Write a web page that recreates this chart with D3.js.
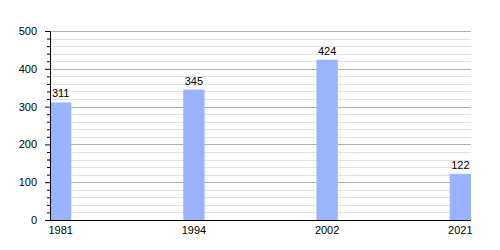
<!DOCTYPE html>
<html>
<head>
    <meta charset="utf-8">
    <script src="https://d3js.org/d3.v7.min.js"></script>
    <style>
        body { margin: 0; background: #fff; }
        text { font-family: "Liberation Sans", Arial, sans-serif; font-size: 11px; fill: #000; }
    </style>
</head>
<body>
    <script>
        var years = ["1981", "1994", "2002", "2021"];
        var population = [311, 345, 424, 122];
        var majorTicks = [0, 100, 200, 300, 400, 500];

        var margin = { top: 31, right: 29, bottom: 30, left: 50 };
        var width = 500 - margin.left - margin.right;
        var height = 250 - margin.top - margin.bottom;

        var svg = d3.select("body")
            .append("svg")
            .attr("width", 500)
            .attr("height", 250)
            .append("g")
            .attr("transform", "translate(" + margin.left + ", " + margin.top + ")");

        var x = d3.scaleBand()
            .domain(years)
            .range([0, width])
            .paddingInner(0.84)
            .paddingOuter(0)
            .align(0);

        var y = d3.scaleLinear()
            .domain([0, 500])
            .range([height, 0]);

        // minor gridlines every 20
        var minor = d3.range(20, 500, 20).filter(function(v) { return v % 100 !== 0; });
        svg.selectAll(".minor")
            .data(minor)
            .join("line")
            .attr("x1", 0)
            .attr("x2", width)
            .attr("y1", function(d) { return Math.round(y(d)) + 0.5; })
            .attr("y2", function(d) { return Math.round(y(d)) + 0.5; })
            .attr("stroke", "#e2e2e2");

        svg.selectAll(".major")
            .data(majorTicks.slice(1))
            .join("line")
            .attr("x1", 0)
            .attr("x2", width)
            .attr("y1", function(d) { return Math.round(y(d)) + 0.5; })
            .attr("y2", function(d) { return Math.round(y(d)) + 0.5; })
            .attr("stroke", "#b0b0b0");

        svg.selectAll("rect")
            .data(population)
            .join("rect")
            .attr("x", function(d, i) { return x(years[i]); })
            .attr("y", function(d) { return y(d); })
            .attr("width", x.bandwidth())
            .attr("height", function(d) { return height - y(d); })
            .attr("fill", "#99b3ff");

        svg.selectAll(".val")
            .data(population)
            .join("text")
            .attr("class", "val")
            .attr("x", function(d, i) { return x(years[i]) + x.bandwidth() / 2; })
            .attr("y", function(d) { return y(d) - 5; })
            .attr("text-anchor", "middle")
            .text(function(d) { return d; });

        // minor ticks on y axis
        svg.append("g")
            .call(d3.axisLeft(y).tickValues(minor).tickSize(3).tickFormat(""))
            .call(function(g) { g.select(".domain").remove(); });

        var yAxis = svg.append("g")
            .call(d3.axisLeft(y).tickValues(majorTicks).tickSize(5).tickPadding(8));
        yAxis.selectAll("text").style("font-size", "11px");

        var xAxis = svg.append("g")
            .attr("transform", "translate(0, " + height + ")")
            .call(d3.axisBottom(x).tickSize(0).tickPadding(6));
        xAxis.select(".domain").attr("d", "M0,0.5H" + width);
        xAxis.selectAll("text").style("font-size", "11px");
    </script>
</body>
</html>
